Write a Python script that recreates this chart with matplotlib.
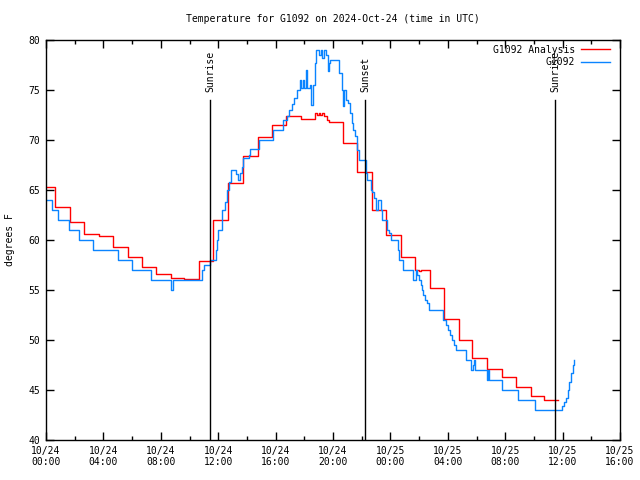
import matplotlib
matplotlib.use("Agg")
import matplotlib.pyplot as plt
import numpy as np

# ---- data (hours since 2024-10-24 00:00 UTC) ----
analysis_t = [0, 0.65, 1.67, 2.67, 3.67, 4.7, 5.7, 6.67, 7.65, 8.69, 9.65, 10.68,
              11.67, 12.66, 13.7, 14.75, 15.75, 16.75, 17.75, 18.72, 18.9, 19.0,
              19.1, 19.25, 19.4, 19.6, 19.75, 20.7, 21.7, 22.7, 23.72, 24.72,
              25.72, 26.0, 26.1, 26.75, 27.72, 28.75, 29.72, 30.72, 31.75, 32.75,
              33.78, 34.72, 35.7]
analysis_v = [65.3, 63.3, 61.8, 60.6, 60.4, 59.3, 58.3, 57.3, 56.6, 56.2, 56.1, 57.9,
              62.0, 65.7, 68.4, 70.3, 71.5, 72.4, 72.1, 72.7, 72.5, 72.7,
              72.5, 72.7, 72.4, 72.0, 71.8, 69.7, 66.8, 63.0, 60.5, 58.3,
              57.0, 56.9, 57.0, 55.2, 52.1, 50.0, 48.2, 47.1, 46.3, 45.3,
              44.4, 44.0, 44.0]

obs_t = [0, 0.44, 0.86, 1.63, 2.32, 3.30, 5.0, 5.97, 7.32, 8.71, 8.83, 10.85, 11.0,
         11.43, 11.82, 11.9, 12.01, 12.24, 12.47, 12.59, 12.78, 12.89, 13.17, 13.24,
         13.36, 13.52, 13.64, 13.75, 14.17, 14.22, 14.84, 15.8, 16.54, 16.77, 16.96,
         17.12, 17.3, 17.47, 17.7, 17.8, 17.93, 18.0, 18.12, 18.2, 18.4, 18.47, 18.63,
         18.75, 18.79, 18.98, 19.05, 19.14, 19.26, 19.37, 19.51, 19.63, 19.72, 19.79,
         20.37, 20.44, 20.6, 20.67, 20.77, 20.88, 21.07, 21.18, 21.3, 21.42, 21.53,
         21.7, 21.81, 22.23, 22.28, 22.35, 22.53, 22.63, 22.74, 22.88, 23.0, 23.11,
         23.32, 23.44, 23.67, 23.79, 23.9, 24.04, 24.39, 24.51, 24.62, 24.86, 25.55,
         25.6, 25.76, 25.83, 25.99, 26.11, 26.2, 26.29, 26.39, 26.58, 26.71, 27.64,
         27.69, 27.87, 27.99, 28.15, 28.27, 28.45, 28.55, 29.15, 29.25, 29.55, 29.62,
         29.73, 29.83, 29.92, 30.66, 30.71, 30.78, 30.87, 31.71, 31.8, 32.8, 32.91,
         34.01, 34.1, 35.77, 35.94, 36.1, 36.24, 36.35, 36.47, 36.59, 36.7, 36.82]
obs_v = [64, 63, 62, 61, 60, 59, 58, 57, 56, 55, 56, 57, 57.5,
         58, 59, 60, 61, 63, 63.8, 65, 65.8, 67, 67, 66.6,
         66, 66.7, 67.3, 68.2, 68.5, 69.1, 70, 71, 72, 72.4, 73,
         73.6, 74.2, 75, 76, 75.2, 76, 75.2, 77, 75.2, 75.5, 73.5, 75.5,
         77.7, 79, 79, 78.5, 79, 78.2, 79, 78.5, 76.9, 77.7, 78,
         78, 76.7, 75, 73.4, 75, 74, 73.7, 72.7, 71.7, 71, 70.4,
         69, 68, 68, 66.7, 66, 66, 65, 64.8, 64.2, 63, 64,
         63, 62, 62, 61, 60.7, 60, 60, 59, 58, 57, 57,
         56, 57, 56.5, 56, 55.5, 55, 54.5, 54, 53.7, 53, 53,
         52, 51.5, 51, 50.5, 50, 49.5, 49, 49, 48, 48, 47,
         47.5, 48, 47, 47, 46, 47, 46, 46, 45, 45, 44,
         44, 43, 43, 43.4, 43.8, 44.2, 45, 45.8, 46.7, 47.5, 48]

sun_t = [11.45, 22.23, 35.49]
sun_labels = ["Sunrise", "Sunset", "Sunrise"]

xtick_hours = list(range(0, 41, 4))
xtick_labels = ["10/24\n00:00", "10/24\n04:00", "10/24\n08:00", "10/24\n12:00",
                "10/24\n16:00", "10/24\n20:00", "10/25\n00:00", "10/25\n04:00",
                "10/25\n08:00", "10/25\n12:00", "10/25\n16:00"]
yticks = [40, 45, 50, 55, 60, 65, 70, 75, 80]

plt.rcParams['font.family'] = ['DejaVu Sans Mono']
FS = 7

fig = plt.figure(figsize=(6.4, 4.8), dpi=100)
ax = fig.add_axes([46/640, 40/480, 574/640, 400/480])

ax.plot(analysis_t, analysis_v, color='#ff0000', lw=1.0, drawstyle='steps-post',
        label='G1092 Analysis')
ax.plot(obs_t, obs_v, color='#0a84ff', lw=1.0, drawstyle='steps-post', label='G1092')

for t, lab in zip(sun_t, sun_labels):
    ax.plot([t, t], [40, 74], color='black', lw=1.0)
    ax.text(t, 74.8, lab, rotation=90, ha='center', va='bottom', fontsize=FS)

ax.set_xlim(0, 40)
ax.set_ylim(40, 80)
ax.set_xticks(xtick_hours)
ax.set_xticklabels(xtick_labels, fontsize=FS)
ax.set_xticks(list(range(2, 40, 4)), minor=True)
ax.set_yticks(yticks)
ax.set_yticklabels([str(v) for v in yticks], fontsize=FS)
ax.tick_params(which='both', direction='in', top=True, right=True, width=1.0)
ax.tick_params(which='major', length=6, pad=4)
ax.tick_params(which='minor', length=3)
for s in ax.spines.values():
    s.set_linewidth(1.0)

ax.set_ylabel('degrees F', fontsize=FS, labelpad=10)
fig.text(333/640, 1 - 19/480, 'Temperature for G1092 on 2024-Oct-24 (time in UTC)',
         ha='center', va='center', fontsize=FS)

leg = ax.legend(loc='upper right', bbox_to_anchor=(1.0, 1.013), fontsize=FS,
                frameon=False, markerfirst=False,
                handlelength=3.0, handletextpad=0.6, borderaxespad=0.6,
                borderpad=0.4, labelspacing=0.25)
for t in leg.get_texts():
    t.set_ha('right')

fig.savefig('out.png', dpi=100)
